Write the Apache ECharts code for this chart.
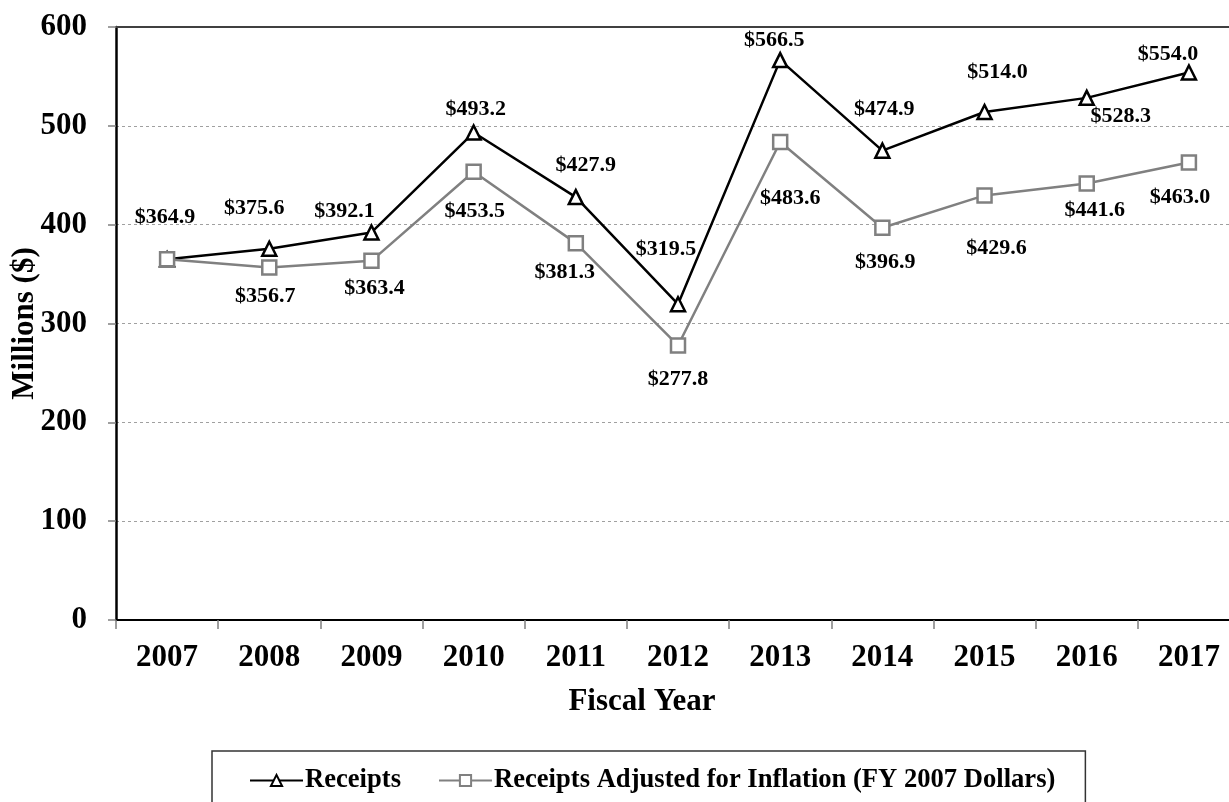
<!DOCTYPE html>
<html>
<head>
<meta charset="utf-8">
<script src="https://cdn.jsdelivr.net/npm/echarts@6/dist/echarts.min.js"></script>
<style>
html, body { margin: 0; padding: 0; background: #fff; }
#chart { width: 1229px; height: 802px; }
</style>
</head>
<body>
<div id="chart"></div>
<script>
// data
var years = ['2007', '2008', '2009', '2010', '2011', '2012', '2013', '2014', '2015', '2016', '2017'];
var receipts = [364.9, 375.6, 392.1, 493.2, 427.9, 319.5, 566.5, 474.9, 514.0, 528.3, 554.0];
var adjusted = [364.9, 356.7, 363.4, 453.5, 381.3, 277.8, 483.6, 396.9, 429.6, 441.6, 463.0];
var yTicks = [0, 100, 200, 300, 400, 500, 600];

// label placement (px offset from the point), null = no label
var receiptsOffsets = [[-2, -42], [-15, -40], [-27, -21], [2, -23], [10, -32], [-12, -55], [-6, -20], [2, -41], [13, -40], [34, 18], [-21, -18]];
var adjustedOffsets = [null, [-4, 29], [3, 27], [1, 40], [-11, 29], [0, 34], [10, 56], [3, 35], [12, 53], [8, 27], [-9, 35]];

var font = "'Liberation Serif', 'Times New Roman', serif";

function buildPoints(values, offsets) {
    return values.map(function (v, i) {
        var off = offsets[i];
        return {
            value: v,
            label: off ? { show: true, offset: off } : { show: false }
        };
    });
}

var labelStyle = {
    position: 'inside',
    color: '#000',
    fontFamily: font,
    fontWeight: 'bold',
    fontSize: 22,
    formatter: function (p) { return '$' + p.value.toFixed(1); }
};

var option = {
    animation: false,
    backgroundColor: '#fff',
    textStyle: { fontFamily: font },
    // plot runs a little past the right edge, like the original
    grid: { left: 116, top: 27, right: -11, bottom: 182, outerBoundsMode: 'none', containLabel: false },
    legend: {
        left: 212,
        top: 751,
        padding: [16, 30, 40, 37],
        borderColor: '#333',
        borderWidth: 1.5,
        itemWidth: 53,
        itemHeight: 14,
        itemGap: 37,
        textStyle: { fontFamily: font, fontWeight: 'bold', fontSize: 26.6, color: '#000', padding: [0, 0, 0, -3] },
        data: ['Receipts', 'Receipts Adjusted for Inflation (FY 2007 Dollars)']
    },
    xAxis: [{
        type: 'category',
        data: years,
        name: 'Fiscal Year',
        nameLocation: 'middle',
        nameGap: 66,
        nameMoveOverlap: false,
        nameTextStyle: { fontFamily: font, fontWeight: 'bold', fontSize: 31, color: '#000', padding: [0, 72, 0, 0] },
        axisLine: { lineStyle: { color: '#000', width: 2 } },
        axisTick: { show: true, length: 9, lineStyle: { color: '#808080', width: 1.5 } },
        axisLabel: { margin: 22, fontFamily: font, fontWeight: 'bold', fontSize: 31, color: '#000' }
    }, {
        // top frame line
        type: 'category',
        position: 'top',
        data: years,
        axisLine: { show: true, lineStyle: { color: '#404040', width: 2 } },
        axisTick: { show: false },
        axisLabel: { show: false }
    }],
    yAxis: {
        type: 'value',
        min: yTicks[0],
        max: yTicks[yTicks.length - 1],
        interval: 100,
        name: 'Millions ($)',
        nameLocation: 'middle',
        nameGap: 76,
        nameMoveOverlap: false,
        nameTextStyle: { fontFamily: font, fontWeight: 'bold', fontSize: 31, color: '#000' },
        axisLine: { show: true, lineStyle: { color: '#000', width: 2.5 } },
        axisTick: { show: true, length: 8, lineStyle: { color: '#808080', width: 1.5 } },
        axisLabel: { margin: 29, fontFamily: font, fontWeight: 'bold', fontSize: 31, color: '#000' },
        splitLine: { lineStyle: { color: '#a0a0a0', width: 1, type: [3, 3] } }
    },
    series: [{
        name: 'Receipts',
        type: 'line',
        data: buildPoints(receipts, receiptsOffsets),
        symbol: 'triangle',
        symbolSize: 14,
        lineStyle: { color: '#000', width: 2.5 },
        itemStyle: { color: '#fff', borderColor: '#000', borderWidth: 2.5 },
        label: labelStyle,
        z: 2
    }, {
        name: 'Receipts Adjusted for Inflation (FY 2007 Dollars)',
        type: 'line',
        data: buildPoints(adjusted, adjustedOffsets),
        symbol: 'rect',
        symbolSize: 14,
        lineStyle: { color: '#808080', width: 2.5 },
        itemStyle: { color: '#fff', borderColor: '#808080', borderWidth: 2.5 },
        label: labelStyle,
        z: 3
    }]
};

var myChart = echarts.init(document.getElementById('chart'));
myChart.setOption(option);
window.addEventListener('resize', function () {
    myChart.resize();
});
</script>
</body>
</html>
